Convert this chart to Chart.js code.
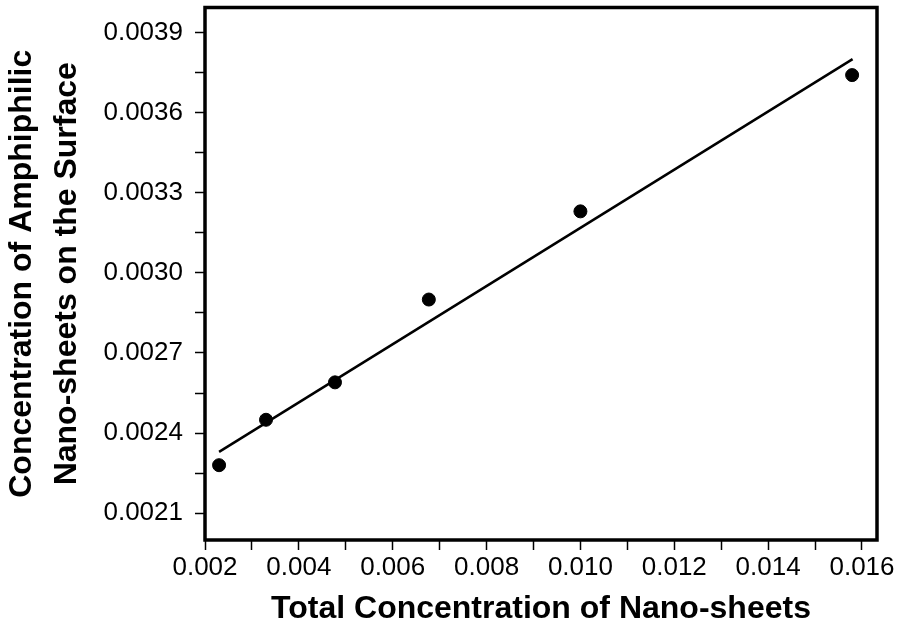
<!DOCTYPE html>
<html>
<head>
<meta charset="utf-8">
<script src="https://cdn.jsdelivr.net/npm/chart.js@4"></script>
<style>
  html, body { margin: 0; padding: 0; background: #fff; }
  #wrap { width: 897px; height: 632px; }
</style>
</head>
<body>
<div id="wrap"><canvas id="chart" width="897" height="632"></canvas></div>
<script>
const TOTAL_CONC   = [0.0023, 0.0033, 0.00477, 0.00677, 0.0100, 0.01579];
const SURFACE_CONC = [0.00228, 0.00245, 0.00259, 0.00290, 0.00323, 0.00374];
const FIT_X = [0.0023, 0.0158];
const FIT_Y = [0.00233, 0.00380];

const X_MAJOR = [0.002, 0.004, 0.006, 0.008, 0.010, 0.012, 0.014, 0.016];
const X_MINOR = [0.003, 0.005, 0.007, 0.009, 0.011, 0.013, 0.015];
const Y_MAJOR = [0.0021, 0.0024, 0.0027, 0.0030, 0.0033, 0.0036, 0.0039];
const Y_MINOR = [0.00225, 0.00255, 0.00285, 0.00315, 0.00345, 0.00375];

const X_TITLE = "Total Concentration of Nano-sheets";
const Y_TITLE = ["Concentration of Amphiphilic", "Nano-sheets on the Surface"];

const FONT = "'Liberation Sans', Arial, sans-serif";

function isMajor(list, v) {
  return list.some(m => Math.abs(m - v) < 1e-9);
}

// thick box round the plot area
const frame = {
  id: "frame",
  afterDraw(chart) {
    const a = chart.chartArea, ctx = chart.ctx;
    ctx.save();
    ctx.strokeStyle = "#000";
    ctx.lineWidth = 3.5;
    ctx.strokeRect(a.left, a.top, a.right - a.left, a.bottom - a.top);
    ctx.restore();
  }
};

new Chart(document.getElementById("chart"), {
  type: "scatter",
  data: {
    datasets: [
      {
        label: "fit",
        type: "line",
        data: FIT_X.map((x, i) => ({ x, y: FIT_Y[i] })),
        borderColor: "#000",
        borderWidth: 2.5,
        pointRadius: 0,
        fill: false
      },
      {
        label: "data",
        data: TOTAL_CONC.map((x, i) => ({ x, y: SURFACE_CONC[i] })),
        backgroundColor: "#000",
        borderColor: "#000",
        pointRadius: 6.5,
        pointHoverRadius: 6.5
      }
    ]
  },
  options: {
    responsive: false,
    animation: false,
    layout: { padding: { top: 5, right: 20, left: 0, bottom: 0 } },
    plugins: { legend: { display: false }, tooltip: { enabled: false } },
    scales: {
      x: {
        type: "linear",
        min: 0.002,
        max: 0.01632,
        afterBuildTicks: s => { s.ticks = X_MAJOR.concat(X_MINOR).sort((a, b) => a - b).map(v => ({ value: v })); },
        afterFit: s => { s.height = 92; s.paddingLeft = 0; s.paddingRight = 0; },
        grid: { drawOnChartArea: false, drawTicks: true, tickLength: 10, color: "#000", tickWidth: 1.5 },
        border: { display: false },
        ticks: {
          color: "#000",
          padding: 2,
          maxRotation: 0,
          autoSkip: false,
          font: { family: FONT, size: 26 },
          callback: v => isMajor(X_MAJOR, v) ? v.toFixed(3) : ""
        },
        title: {
          display: true,
          text: X_TITLE,
          color: "#000",
          padding: { top: 0, bottom: 0 },
          font: { family: FONT, size: 32, weight: "bold", lineHeight: 1.4 }
        }
      },
      y: {
        type: "linear",
        min: 0.0020,
        max: 0.003993,
        afterBuildTicks: s => { s.ticks = Y_MAJOR.concat(Y_MINOR).sort((a, b) => a - b).map(v => ({ value: v })); },
        afterFit: s => { s.width = 205; s.paddingTop = 0; s.paddingBottom = 0; },
        grid: { drawOnChartArea: false, drawTicks: true, tickLength: 10, color: "#000", tickWidth: 1.5 },
        border: { display: false },
        ticks: {
          color: "#000",
          padding: 12,
          autoSkip: false,
          font: { family: FONT, size: 26 },
          callback: v => isMajor(Y_MAJOR, v) ? v.toFixed(4) : ""
        },
        title: {
          display: true,
          text: Y_TITLE,
          color: "#000",
          padding: { top: 0, bottom: 0 },
          font: { family: FONT, size: 32, weight: "bold", lineHeight: 1.4 }
        }
      }
    }
  },
  plugins: [frame]
});
</script>
</body>
</html>
